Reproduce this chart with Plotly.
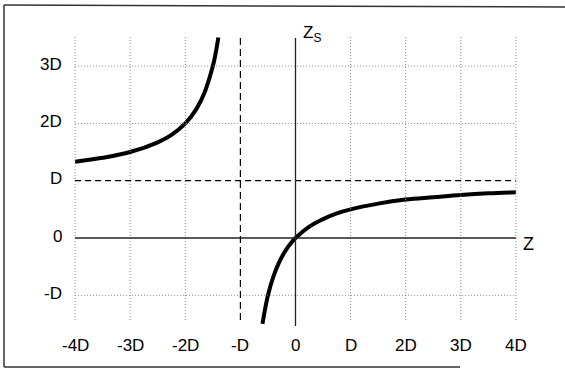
import plotly.graph_objects as go

# Data (units of D)
left_z = [-4.0, -3.5, -3.0, -2.5, -2.25, -2.0, -1.8, -1.65, -1.5, -1.45, -1.4]
left_zs = [1.33, 1.4, 1.5, 1.67, 1.8, 2.0, 2.25, 2.54, 3.0, 3.22, 3.5]
right_z = [-0.6, -0.5, -0.4, -0.3, -0.2, -0.1, 0.0, 0.25, 0.5, 0.75, 1.0, 1.5, 2.0, 2.5, 3.0, 3.5, 4.0]
right_zs = [-1.5, -1.0, -0.67, -0.43, -0.25, -0.11, 0.0, 0.2, 0.33, 0.43, 0.5, 0.6, 0.67, 0.71, 0.75, 0.78, 0.8]

x_ticks = [-4, -3, -2, -1, 0, 1, 2, 3, 4]
x_labels = ["-4D", "-3D", "-2D", "-D", "0", "D", "2D", "3D", "4D"]
y_ticks = [3, 2, 1, 0, -1]
y_labels = ["3D", "2D", "D", "0", "-D"]
grid_x = [-4, -3, -2, 1, 2, 3, 4]
grid_y = [3, 2, -1]

W, H = 565, 373
PXX = 55.1   # px per D horizontally
PXY = 57.3   # px per D vertically
X0, Y0 = 295.5, 238
xr = [(0 - X0) / PXX, (W - X0) / PXX]
yr = [(Y0 - H) / PXY, Y0 / PXY]

def dy(p):  # page px (vertical) -> data
    return (Y0 - p) / PXY

def dx(p):  # page px (horizontal) -> data
    return (p - X0) / PXX

FONT = "Liberation Sans, Arial, sans-serif"
fig = go.Figure()

shapes = []
DOT = dict(color="#8a8a8a", width=1, dash="1px,2px")
for gx in grid_x:
    shapes.append(dict(type="line", x0=gx, x1=gx, y0=dy(320), y1=dy(35), line=DOT))
for gy in grid_y:
    shapes.append(dict(type="line", x0=-4, x1=4, y0=gy, y1=gy, line=DOT))
# asymptotes
shapes.append(dict(type="line", x0=-4, x1=4, y0=1, y1=1,
                   line=dict(color="black", width=1.2, dash="6px,4px")))
shapes.append(dict(type="line", x0=-1, x1=-1, y0=dy(320), y1=dy(36),
                   line=dict(color="black", width=1.2, dash="7px,4px")))
# axes
shapes.append(dict(type="line", x0=-4, x1=4, y0=0, y1=0,
                   line=dict(color="#222", width=1.4)))
shapes.append(dict(type="line", x0=0, x1=0, y0=dy(326), y1=dy(38),
                   line=dict(color="#222", width=1.3)))
# frame (paper px)
def px(x): return x / W
def py(y): return 1 - y / H
FR = dict(color="#333", width=1.5)
shapes.append(dict(type="line", xref="paper", yref="paper", x0=px(4), x1=px(565),
                   y0=py(5), y1=py(7), line=FR))
shapes.append(dict(type="line", xref="paper", yref="paper", x0=px(4), x1=px(4),
                   y0=py(5), y1=py(367), line=FR))
shapes.append(dict(type="line", xref="paper", yref="paper", x0=px(4), x1=px(460),
                   y0=py(367), y1=py(367), line=FR))

for xs, ys in ((left_z, left_zs), (right_z, right_zs)):
    fig.add_trace(go.Scatter(x=xs, y=ys, mode="lines",
                             line=dict(color="black", width=4, shape="spline", smoothing=1.0),
                             hoverinfo="skip"))

ann = []
for t, l in zip(x_ticks, x_labels):
    ann.append(dict(x=t, y=dy(345), text=l, showarrow=False,
                    xanchor="center", yanchor="middle",
                    font=dict(size=17, color="black", family=FONT)))
for t, l in zip(y_ticks, y_labels):
    ann.append(dict(x=dx(64), y=t + 2 / PXY, text=l, showarrow=False,
                    xanchor="right", yanchor="middle",
                    font=dict(size=17, color="black", family=FONT)))
ann.append(dict(x=dx(521), y=dy(244), text="Z", showarrow=False,
                xanchor="left", yanchor="middle",
                font=dict(size=18, color="black", family=FONT)))
ann.append(dict(x=dx(301), y=dy(34), text="Z<sub>S</sub>", showarrow=False,
                xanchor="left", yanchor="middle",
                font=dict(size=17, color="black", family=FONT)))

fig.update_layout(
    width=W, height=H, autosize=False,
    margin=dict(l=0, r=0, t=0, b=0),
    paper_bgcolor="white", plot_bgcolor="white",
    showlegend=False,
    xaxis=dict(range=xr, visible=False, fixedrange=True),
    yaxis=dict(range=yr, visible=False, fixedrange=True),
    shapes=shapes, annotations=ann,
)
fig.write_html("out.html", config={"displayModeBar": False},
               post_script="document.body.style.margin='0px';")
